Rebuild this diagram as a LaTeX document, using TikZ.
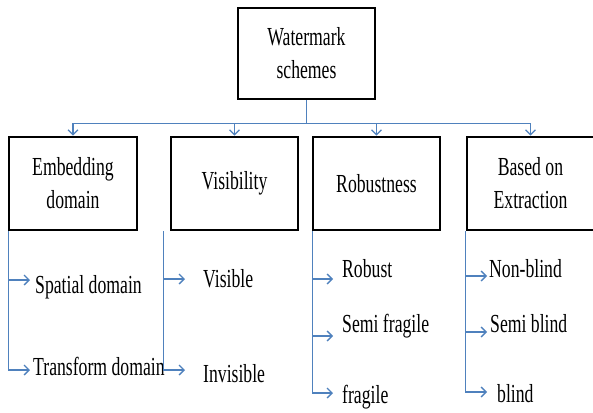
\documentclass[tikz,border=0pt]{standalone}
\usepackage{fontspec}
\setmainfont{Liberation Serif}[FakeStretch=0.68]
\usetikzlibrary{arrows.meta}
\definecolor{linkblue}{RGB}{79,129,189}

\begin{document}
\begin{tikzpicture}[x=1pt, y=-1pt, >={Straight Barb[length=5pt,width=10pt]},
    box/.style={draw, line width=2.6pt, minimum width=127pt, minimum height=93pt,
      align=center, inner sep=2pt, font=\fontsize{26}{33}\selectfont},
    item/.style={anchor=base west, inner sep=0pt, font=\fontsize{26}{33}\selectfont},
    conn/.style={->, draw=linkblue, line width=1.3pt}
  ]
  \useasboundingbox (0,0) rectangle (593,412);

  \node[box, minimum width=137pt, minimum height=91pt] (root) at (306.5,53.5) {Watermark\\schemes};

  \node[box, minimum width=128pt] (emb) at (73,183.5)    {Embedding\\domain};
  \node[box]                      (vis) at (234.5,183.5) {Visibility};
  \node[box]                      (rob) at (376.5,183.5) {Robustness};
  \node[box]                      (ext) at (530.5,183.5) {Based on\\Extraction};

  % tree from the root
  \draw[conn] (root.south) -- ++(0,23) -| (emb.north);
  \draw[conn] (root.south) -- ++(0,23) -| (vis.north);
  \draw[conn] (root.south) -- ++(0,23) -| (rob.north);
  \draw[conn] (root.south) -- ++(0,23) -| (ext.north);

  % leaves
  \node[item] (spat)  at (35,293)  {Spatial domain};
  \node[item] (trans) at (33,375)  {Transform domain};
  \node[item] (visb)  at (203,287) {Visible};
  \node[item] (invis) at (203,382) {Invisible};
  \node[item] (rbst)  at (342,277) {Robust};
  \node[item] (sfrag) at (342,332) {Semi fragile};
  \node[item] (frag)  at (342,403) {fragile};
  \node[item] (nblnd) at (489,277) {Non-blind};
  \node[item] (sblnd) at (490,332) {Semi blind};
  \node[item] (blnd)  at (497,402) {blind};

  \coordinate (spat-in)  at (30,280);
  \coordinate (trans-in) at (30,370);
  \coordinate (visb-in)  at (185,279);
  \coordinate (invis-in) at (185,370);
  \coordinate (rbst-in)  at (333,279);
  \coordinate (sfrag-in) at (333,336);
  \coordinate (frag-in)  at (333,393);
  \coordinate (nblnd-in) at (487,276);
  \coordinate (sblnd-in) at (487,332);
  \coordinate (blnd-in)  at (487,392);

  % branches
  \draw[conn] ([xshift=1pt]emb.south west) |- (spat-in);
  \draw[conn] ([xshift=1pt]emb.south west) |- (trans-in);
  \draw[conn] ([xshift=-6pt]vis.south west) |- (visb-in);
  \draw[conn] ([xshift=-6pt]vis.south west) |- (invis-in);
  \draw[conn] ([xshift=1pt]rob.south west) |- (rbst-in);
  \draw[conn] ([xshift=1pt]rob.south west) |- (sfrag-in);
  \draw[conn] ([xshift=1pt]rob.south west) |- (frag-in);
  \draw[conn] (ext.south west) |- (nblnd-in);
  \draw[conn] (ext.south west) |- (sblnd-in);
  \draw[conn] (ext.south west) |- (blnd-in);
\end{tikzpicture}
\end{document}
